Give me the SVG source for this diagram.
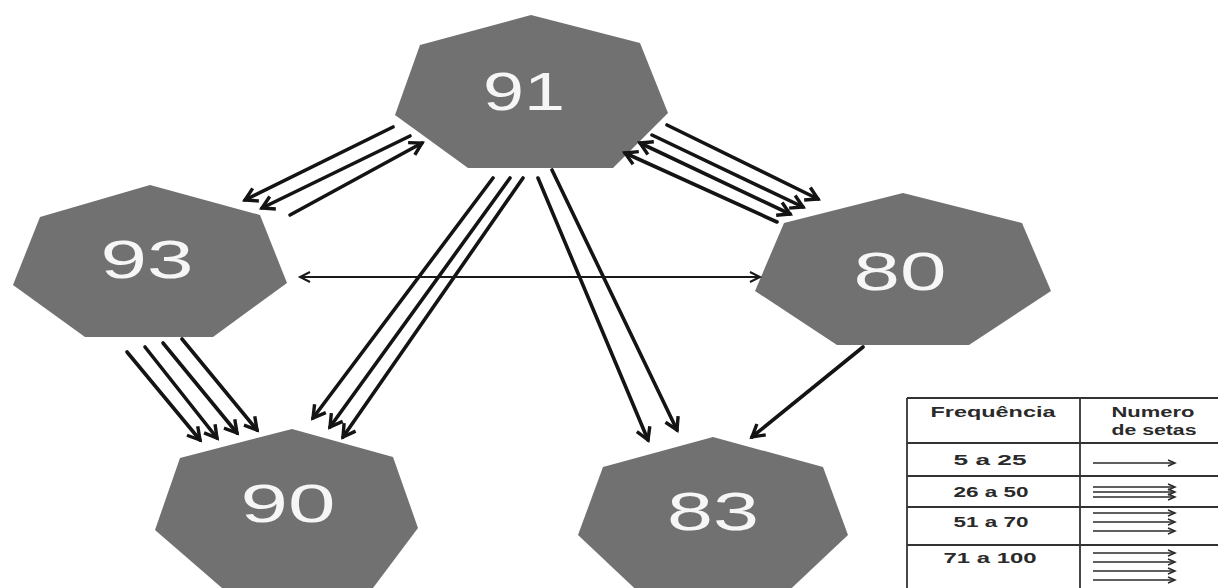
<svg xmlns="http://www.w3.org/2000/svg" width="1218" height="588" viewBox="0 0 1218 588">
<style>
.node{fill:#717171;}
.lbl{font-family:"Liberation Sans",Arial,sans-serif;font-size:54px;fill:#f6f6f6;text-anchor:middle;}
.arr{stroke:#141414;stroke-width:3.6;fill:none;stroke-linecap:round;}
.thin{stroke:#1a1a1a;stroke-width:2;fill:none;}
.tbl{stroke:#333;stroke-width:1.8;fill:none;}
.lt{font-family:"Liberation Sans",Arial,sans-serif;font-size:14px;font-weight:bold;fill:#2a2a2a;text-anchor:middle;}
.la{stroke:#2a2a2a;stroke-width:1.5;fill:none;}
</style>
<defs>
<marker id="h" markerUnits="userSpaceOnUse" markerWidth="18" markerHeight="18" refX="14" refY="9" orient="auto-start-reverse">
<path d="M2,2 L14,9 L2,16" fill="none" stroke="#141414" stroke-width="3.4" stroke-linejoin="miter"/>
</marker>
<marker id="hs" markerUnits="userSpaceOnUse" markerWidth="16" markerHeight="16" refX="13" refY="8" orient="auto-start-reverse">
<path d="M3,3 L13,8 L3,13" fill="none" stroke="#1a1a1a" stroke-width="2"/>
</marker>
<marker id="hl" markerUnits="userSpaceOnUse" markerWidth="10" markerHeight="10" refX="8" refY="5" orient="auto">
<path d="M1,2 L8,5 L1,8" fill="none" stroke="#2a2a2a" stroke-width="1.5"/>
</marker>
</defs>
<rect width="1218" height="588" fill="#ffffff"/>

<g id="node-91">
<polygon class="node" points="531,15 640,43 668,113 613,168 468,168 395,115 420,45"/>
<text class="lbl" x="524" y="110" textLength="82" lengthAdjust="spacingAndGlyphs">91</text>
</g>
<g id="node-93">
<polygon class="node" points="150,185 260,215 287,283 213,337 85,337 13,285 40,217"/>
<text class="lbl" x="147" y="278" textLength="93" lengthAdjust="spacingAndGlyphs">93</text>
</g>
<g id="node-80">
<polygon class="node" points="903,193 1022,223 1051,291 969,345 837,345 755,291 784,223"/>
<text class="lbl" x="900" y="290" textLength="93" lengthAdjust="spacingAndGlyphs">80</text>
</g>
<g id="node-90">
<polygon class="node" points="292,429 393,457 418,528 373,588 222,588 155,530 180,458"/>
<text class="lbl" x="288" y="522" textLength="95" lengthAdjust="spacingAndGlyphs">90</text>
</g>
<g id="node-83">
<polygon class="node" points="713,437 823,467 848,535 779,600 647,600 578,535 603,467"/>
<text class="lbl" x="713" y="530" textLength="92" lengthAdjust="spacingAndGlyphs">83</text>
</g>

<g id="connectors">
<line class="arr" x1="393" y1="127" x2="245" y2="200" marker-end="url(#h)"/>
<line class="arr" x1="410" y1="136" x2="262" y2="208" marker-end="url(#h)"/>
<line class="arr" x1="290" y1="215" x2="422" y2="143" marker-end="url(#h)"/>
<line class="arr" x1="667" y1="125" x2="818" y2="199" marker-end="url(#h)"/>
<line class="arr" x1="652" y1="135" x2="803" y2="207" marker-end="url(#h)"/>
<line class="arr" x1="790" y1="214" x2="640" y2="143" marker-end="url(#h)" marker-start="url(#h)"/>
<line class="arr" x1="777" y1="222" x2="625" y2="153" marker-end="url(#h)"/>
<line class="arr" x1="493" y1="178" x2="313" y2="418" marker-end="url(#h)"/>
<line class="arr" x1="510" y1="178" x2="330" y2="427" marker-end="url(#h)"/>
<line class="arr" x1="523" y1="178" x2="343" y2="437" marker-end="url(#h)"/>
<line class="arr" x1="538" y1="178" x2="648" y2="440" marker-end="url(#h)"/>
<line class="arr" x1="552" y1="170" x2="677" y2="430" marker-end="url(#h)"/>
<line class="arr" x1="127" y1="352" x2="200" y2="440" marker-end="url(#h)"/>
<line class="arr" x1="145" y1="347" x2="217" y2="438" marker-end="url(#h)"/>
<line class="arr" x1="163" y1="343" x2="237" y2="433" marker-end="url(#h)"/>
<line class="arr" x1="182" y1="339" x2="257" y2="430" marker-end="url(#h)"/>
<line class="arr" x1="863" y1="347" x2="752" y2="437" marker-end="url(#h)"/>
<line class="thin" x1="300" y1="277" x2="760" y2="277" marker-start="url(#hs)" marker-end="url(#hs)"/>
</g>

<g id="legend">
<line class="tbl" x1="907" y1="398" x2="1218" y2="398"/>
<line class="tbl" x1="907" y1="398" x2="907" y2="588"/>
<line class="tbl" x1="1080" y1="398" x2="1080" y2="588"/>
<line class="tbl" x1="907" y1="443" x2="1218" y2="443"/>
<line class="tbl" x1="907" y1="476" x2="1218" y2="476"/>
<line class="tbl" x1="907" y1="507" x2="1218" y2="507"/>
<line class="tbl" x1="907" y1="545" x2="1218" y2="545"/>
<text class="lt" x="993" y="417" textLength="125" lengthAdjust="spacingAndGlyphs">Frequência</text>
<text class="lt" x="1153" y="417" textLength="83" lengthAdjust="spacingAndGlyphs">Numero</text>
<text class="lt" x="1154" y="435" textLength="85" lengthAdjust="spacingAndGlyphs">de setas</text>
<text class="lt" x="990" y="465" textLength="73" lengthAdjust="spacingAndGlyphs">5 a 25</text>
<text class="lt" x="991" y="497" textLength="75" lengthAdjust="spacingAndGlyphs">26 a 50</text>
<text class="lt" x="991" y="527" textLength="75" lengthAdjust="spacingAndGlyphs">51 a 70</text>
<text class="lt" x="990" y="563" textLength="93" lengthAdjust="spacingAndGlyphs">71 a 100</text>
<line class="la" x1="1093" y1="463" x2="1175" y2="463" marker-end="url(#hl)"/>
<line class="la" x1="1093" y1="487" x2="1175" y2="487" marker-end="url(#hl)"/>
<line class="la" x1="1093" y1="492" x2="1175" y2="492" marker-end="url(#hl)"/>
<line class="la" x1="1093" y1="497" x2="1175" y2="497" marker-end="url(#hl)"/>
<line class="la" x1="1093" y1="513" x2="1175" y2="513" marker-end="url(#hl)"/>
<line class="la" x1="1093" y1="522" x2="1175" y2="522" marker-end="url(#hl)"/>
<line class="la" x1="1093" y1="531" x2="1175" y2="531" marker-end="url(#hl)"/>
<line class="la" x1="1093" y1="553" x2="1175" y2="553" marker-end="url(#hl)"/>
<line class="la" x1="1093" y1="562" x2="1175" y2="562" marker-end="url(#hl)"/>
<line class="la" x1="1093" y1="571" x2="1175" y2="571" marker-end="url(#hl)"/>
<line class="la" x1="1093" y1="580" x2="1175" y2="580" marker-end="url(#hl)"/>
</g>
</svg>
